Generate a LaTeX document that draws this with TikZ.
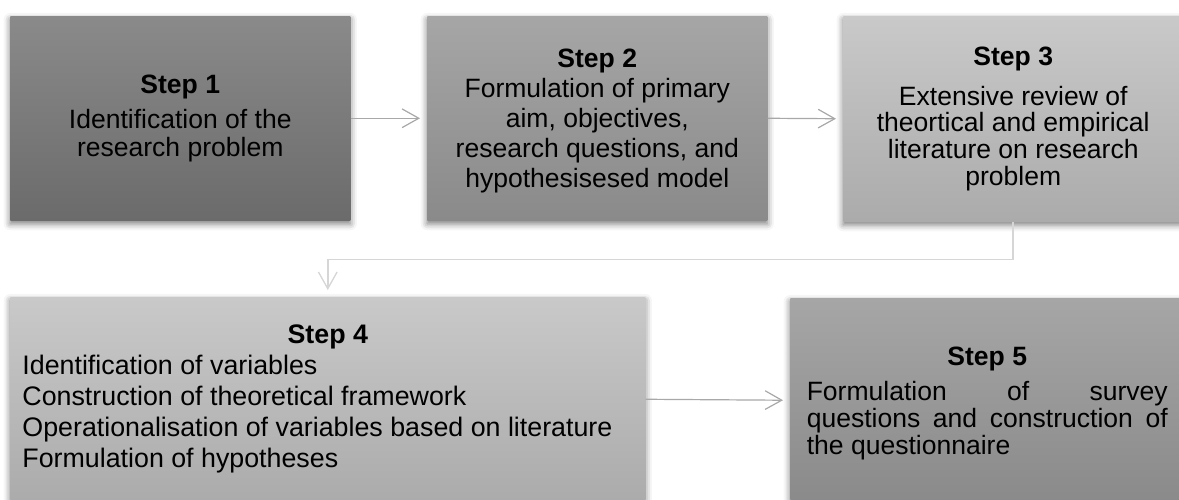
\documentclass[tikz,border=0pt]{standalone}
\usepackage{fontspec}
\setmainfont{Liberation Sans}
\usetikzlibrary{arrows.meta,shadows.blur}

\definecolor{oneTop}{HTML}{8A8A8A}
\definecolor{oneBot}{HTML}{6B6B6B}
\definecolor{midTop}{HTML}{A6A6A6}
\definecolor{midBot}{HTML}{8A8A8A}
\definecolor{lightTop}{HTML}{C9C9C9}
\definecolor{lightBot}{HTML}{ABABAB}
\definecolor{linkgray}{HTML}{A8A8A8}
\definecolor{elbowgray}{HTML}{D6D6D6}

\begin{document}
\begin{tikzpicture}[x=0.75pt,y=-0.75pt,
  stepbox/.style={rectangle, inner sep=0pt, anchor=north west, align=center,
    text=black,
    blur shadow={shadow xshift=0pt, shadow yshift=-2.5pt,
                 shadow blur radius=5pt, shadow opacity=55}},
  darkfill/.style={top color=oneTop, bottom color=oneBot},
  midfill/.style={top color=midTop, bottom color=midBot},
  lightfill/.style={top color=lightTop, bottom color=lightBot},
  link/.style={draw=linkgray, line width=0.9pt,
    -{Straight Barb[length=12.5pt,width=14pt,line width=0.9pt]},
    shorten >=5.25pt},
  elbow/.style={draw=elbowgray, line width=1.3pt,
    -{Straight Barb[length=12.5pt,width=14pt,line width=1pt]},
    shorten >=5.25pt},
]
\useasboundingbox (0,0) rectangle (1179,500);
\clip (0,0) rectangle (1179,500);

% top row
\node[stepbox, darkfill, minimum width=255pt, minimum height=153pt,
      font=\fontsize{19.9}{21}\selectfont] (b1) at (10,16)
  {{\bfseries Step 1}\\[5.25pt]
   Identification of the\\
   research problem};

\node[stepbox, midfill, minimum width=255pt, minimum height=153pt,
      font=\fontsize{19.9}{22.5}\selectfont] (b2) at (427,16)
  {{\bfseries Step 2}\rule{0pt}{18.5pt}\\
   Formulation of primary\\
   aim, objectives,\\
   research questions, and\\
   hypothesisesed model};

\node[stepbox, lightfill, minimum width=255pt, minimum height=153.75pt,
      font=\fontsize{19.9}{20}\selectfont] (b3) at (843,16)
  {{\bfseries Step 3}\\[10pt]
   Extensive review of\\
   theortical and empirical\\
   literature on research\\
   problem};

% bottom row
\node[stepbox, lightfill, minimum width=476.25pt, minimum height=153pt,
      text width=458pt, align=flush left,
      font=\fontsize{20.1}{23.2}\selectfont] (b4) at (10,297)
  {\makebox[\linewidth]{\bfseries Step 4}\\
   Identification of variables\\
   Construction of theoretical framework\\
   Operationalisation of variables based on literature\\
   Formulation of hypotheses};

\node[stepbox, midfill, minimum width=295.5pt, minimum height=153pt,
      text width=270.75pt, align=flush left,
      font=\fontsize{19.9}{20.25}\selectfont] (b5) at (790,298)
  {\makebox[\linewidth]{\bfseries Step 5}\rule{0pt}{18.5pt}\\[6pt]
   \makebox[\linewidth][s]{Formulation\hfill of\hfill survey}\\
   \makebox[\linewidth][s]{questions\hfill and\hfill construction\hfill of}\\
   the questionnaire};

% connectors
\draw[link] (b1.east) -- (b2.west);
\draw[link] (b2.east) -- (b3.west);
\draw[elbow] (b3.south) -- ++(0,38) -| (b4.north);
\draw[link] (b4.east) -- (b5.west);
\end{tikzpicture}
\end{document}
